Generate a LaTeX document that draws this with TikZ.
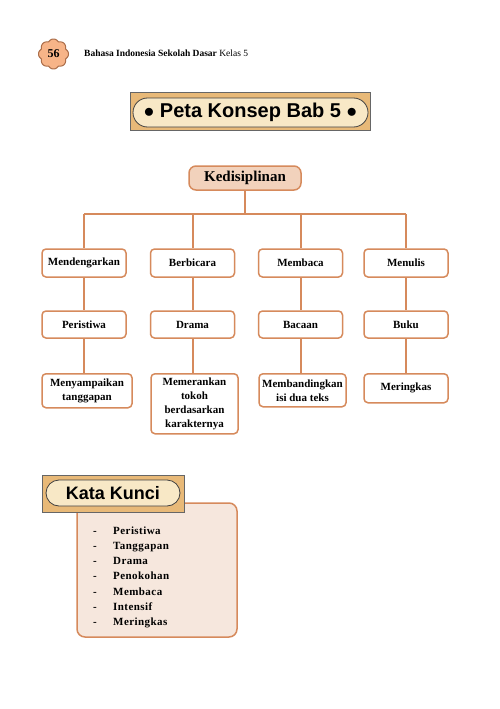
\documentclass[tikz,border=0pt]{standalone}
\usepackage{fontspec}
\setmainfont{Liberation Serif}
\newfontfamily\judulfont{Liberation Sans}
\usetikzlibrary{shapes.misc}

\definecolor{garis}{RGB}{214,138,92}
\definecolor{krem}{RGB}{248,232,198}
\definecolor{cokelatmuda}{RGB}{232,185,120}
\definecolor{merahmuda}{RGB}{242,210,188}
\definecolor{latar}{RGB}{246,231,221}
\definecolor{persik}{RGB}{247,180,136}

\begin{document}
\begin{tikzpicture}[x=1pt, y=-1pt,
  konsep/.style={draw=garis, line width=1.5pt, rounded corners=4pt, fill=white,
    minimum width=84pt, minimum height=28pt, inner sep=2pt, align=center,
    font=\fontsize{11}{14}\selectfont\bfseries},
  inti/.style={draw=garis, line width=1.5pt, rounded corners=7pt, fill=merahmuda,
    minimum width=112pt, minimum height=24pt, font=\fontsize{15}{18}\selectfont\bfseries},
  link/.style={draw=garis, line width=2pt},
  papan/.style={draw=black!60, line width=1pt, fill=cokelatmuda, inner sep=0pt},
  pil/.style={rounded rectangle, draw=black!75, line width=0.8pt, fill=krem, inner sep=0pt,
    font=\judulfont\fontsize{18}{20}\selectfont\bfseries},
  butir/.style={anchor=base west, inner sep=0pt,
    font=\fontsize{11}{13}\selectfont\bfseries\addfontfeature{LetterSpace=4}}]

  \useasboundingbox[fill=white] (0,0) rectangle (499,709);

  % header: page badge and book title
  \draw[fill=persik, draw=garis!80!black, line width=1pt, shift={(53.5,54)}]
    plot[domain=0:360, samples=240] (\x:{13+2*abs(cos(4*\x))}) -- cycle;
  \node[font=\fontsize{12}{14}\selectfont\bfseries] (hal) at (53.5,54) {56};
  \node[anchor=west, inner sep=0pt, font=\fontsize{9.5}{11}\selectfont] (buku) at (84,53)
    {\textbf{Bahasa Indonesia Sekolah Dasar} Kelas 5};

  % chapter title
  \node[papan, minimum width=240pt, minimum height=38pt] (papan1) at (250,111) {};
  \node[pil, minimum width=235pt, minimum height=29pt, font=\judulfont\fontsize{20}{22}\selectfont\bfseries]
    (judul) at (250.5,112.5) {$\bullet$ Peta Konsep Bab 5 $\bullet$};

  % concept map
  \node[inti] (kedi) at (245,178) {Kedisiplinan};
  \coordinate (bus) at (245,214);

  \node[konsep] (m1) at (84,263)    {Mendengarkan};
  \node[konsep] (m2) at (192.5,263) {Berbicara};
  \node[konsep] (m3) at (300.5,263) {Membaca};
  \node[konsep] (m4) at (406,263)   {Menulis};

  \node[konsep, minimum height=27pt] (p1) at (84,324.5)    {Peristiwa};
  \node[konsep, minimum height=27pt] (p2) at (192.5,324.5) {Drama};
  \node[konsep, minimum height=27pt] (p3) at (300.5,324.5) {Bacaan};
  \node[konsep, minimum height=27pt] (p4) at (406,324.5)   {Buku};

  \node[konsep, anchor=north, minimum width=90pt, minimum height=34pt] (k1) at (87,373)
    {Menyampaikan\\tanggapan};
  \node[konsep, anchor=north, minimum width=87pt, minimum height=60pt] (k2) at (194.5,373)
    {Memerankan\\tokoh\\berdasarkan\\karakternya};
  \node[konsep, anchor=north, minimum width=87pt, minimum height=33pt] (k3) at (302.5,373)
    {Membandingkan\\isi dua teks};
  \node[konsep, anchor=north, minimum width=84pt, minimum height=29pt] (k4) at (406,373)
    {Meringkas};

  \draw[link] (kedi) -- (bus);
  \draw[link] (m1.north |- bus) -- (m4.north |- bus);
  \foreach \i in {1,2,3,4} {
    \draw[link] (m\i.north |- bus) -- (m\i.north);
    \draw[link] (m\i) -- (p\i);
    \draw[link] (p\i.south) -- (p\i.south |- k\i.north);
  }

  % ---- key words ----
  \draw[draw=garis, line width=1.5pt, fill=latar, rounded corners=8pt] (77,503) rectangle (237,637);
  \node[papan, minimum width=142pt, minimum height=37pt] (papan2) at (113,493.5) {};
  \node[pil, minimum width=134pt, minimum height=26pt] (kunci) at (113,493) {Kata Kunci};

  \foreach \kata [count=\j from 0] in {Peristiwa,Tanggapan,Drama,Penokohan,Membaca,Intensif,Meringkas} {
    \node[butir] (d\j) at (93,534+15.33*\j) {-};
    \node[butir] (w\j) at (113,534+15.33*\j) {\kata};
  }
\end{tikzpicture}
\end{document}
